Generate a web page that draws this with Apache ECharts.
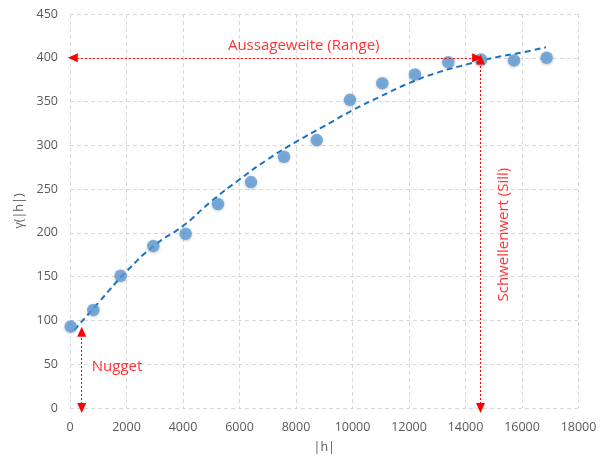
<!DOCTYPE html>
<html>
<head>
<meta charset="utf-8">
<script src="https://cdn.jsdelivr.net/npm/echarts@6/dist/echarts.min.js"></script>
<style>
  html, body { margin: 0; padding: 0; background: #ffffff; }
  #chart { width: 602px; height: 459px; }
</style>
</head>
<body>
<div id="chart"></div>
<script>
// Empirical semivariogram: lag distance |h| and semivariance γ(|h|)
const lagH = [25, 826, 1794, 2950, 4095, 5239, 6407, 7575, 8735, 9912, 11055, 12212, 13391, 14549, 15717, 16873];
const gammaH = [93, 112, 151, 185, 199, 233, 258, 287, 306, 352, 371, 381, 395, 398, 397, 400];

// Fitted model curve (dashed), read as sample points
const fitH = [150, 1000, 2000, 3000, 4000, 5000, 6000, 7000, 8000, 9000, 10000, 11000, 12000, 13000, 14000, 15000, 16000, 16850];
const fitGamma = [89, 120, 156, 186, 208, 236, 261, 284, 304, 322, 340, 356, 371, 383, 392, 400, 406, 412];

// Variogram parameters
const nugget = 87;
const sill = 400;
const range = 14531;

const xTicks = { min: 0, max: 18000, interval: 2000 };
const yTicks = { min: 0, max: 450, interval: 50 };

const red = '#ff0000';
const fontFamily = '"Open Sans", "Liberation Sans", sans-serif';

const chart = echarts.init(document.getElementById('chart'), null, { renderer: 'canvas' });

const gridLine = { show: true, lineStyle: { color: '#d9d9d9', type: [4, 3], width: 1 } };
const axisText = { color: '#595959', fontFamily: fontFamily, fontSize: 12.5 };

const arrowStyle = { color: red, type: [2, 2], width: 1 };

chart.setOption({
  animation: false,
  grid: { left: 70, right: 23.5, top: 14, bottom: 49.5, containLabel: false },
  xAxis: {
    type: 'value',
    min: xTicks.min, max: xTicks.max, interval: xTicks.interval,
    name: '|h|', nameLocation: 'middle', nameGap: 33,
    nameTextStyle: { color: '#595959', fontFamily: fontFamily, fontSize: 12.5 },
    axisLine: { show: false }, axisTick: { show: false },
    axisLabel: Object.assign({ margin: 13, formatter: (v) => String(v) }, axisText),
    splitLine: gridLine
  },
  yAxis: {
    type: 'value',
    min: yTicks.min, max: yTicks.max, interval: yTicks.interval,
    name: 'γ(|h|)', nameLocation: 'middle', nameGap: 42,
    nameTextStyle: { color: '#595959', fontFamily: fontFamily, fontSize: 12.5 },
    axisLine: { show: false }, axisTick: { show: false },
    axisLabel: Object.assign({ margin: 12, formatter: (v) => String(v) }, axisText),
    splitLine: gridLine
  },
  series: [
    {
      name: 'Modell',
      type: 'line',
      data: fitH.map((h, i) => [h, fitGamma[i]]),
      smooth: true,
      showSymbol: false,
      lineStyle: { color: '#1a72c4', width: 2, type: [6, 4] },
      z: 2,
      markLine: {
        silent: true,
        symbol: ['triangle', 'triangle'],
        symbolSize: [9, 10],
        symbolOffset: 0,
        label: { show: false },
        lineStyle: arrowStyle,
        itemStyle: { color: red },
        data: [
          // Range: horizontal double arrow at sill level
          [{ coord: [100, sill] }, { coord: [range - 120, sill] }],
          // Sill: vertical double arrow at range distance
          [{ coord: [range, 0] }, { coord: [range, sill - 2] }],
          // Nugget: vertical double arrow at the origin
          [{ coord: [414, 0] }, { coord: [414, nugget] }]
        ]
      }
    },
    {
      name: 'γ(|h|)',
      type: 'scatter',
      data: lagH.map((h, i) => [h, gammaH[i]]),
      symbol: 'circle',
      symbolSize: 12.5,
      itemStyle: {
        color: '#5b9bd5',
        shadowBlur: 3,
        shadowColor: 'rgba(0,0,0,0.25)',
        shadowOffsetY: 1
      },
      z: 3
    },
    {
      name: 'Beschriftung',
      type: 'scatter',
      symbolSize: 0,
      silent: true,
      z: 4,
      data: [
        {
          value: [8273, 414], name: 'Aussageweite (Range)',
          label: { show: true, position: 'inside', formatter: '{b}', color: red, fontSize: 15, fontFamily: fontFamily }
        },
        {
          value: [15363, 198], name: 'Schwellenwert (Sill)',
          label: { show: true, position: 'inside', rotate: 90, formatter: '{b}', color: red, fontSize: 15, fontFamily: fontFamily }
        },
        {
          value: [770, 47], name: 'Nugget',
          label: { show: true, position: 'right', distance: 0, formatter: '{b}', color: red, fontSize: 15, fontFamily: fontFamily }
        }
      ]
    }
  ]
});
</script>
</body>
</html>
